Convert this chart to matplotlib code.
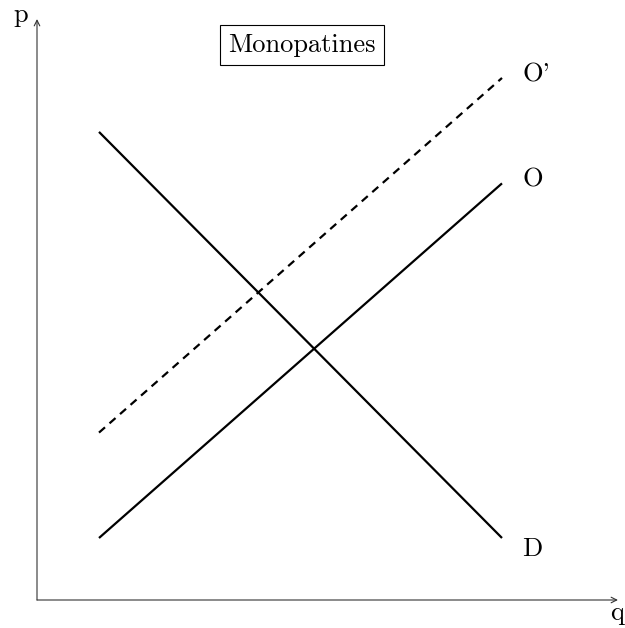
import matplotlib
matplotlib.use("Agg")
import matplotlib.pyplot as plt

plt.rcParams["font.family"] = ["cmr10", "DejaVu Serif"]
plt.rcParams["axes.formatter.use_mathtext"] = True

# supply / demand lines, in axis units (origin at the corner of the axes)
Q_START, Q_END = 1.0, 7.5
D_P = [7.55, 1.0]        # demand
O_P = [1.0, 6.72]        # supply
O2_P = [2.70, 8.42]      # shifted supply (dashed)
AX_MAX = 9.37
TITLE = "Monopatines"

UNIT = 62.0              # pixels per axis unit
X0, Y0 = 37.0, 600.0     # pixel position of the origin
W, H = 625, 628
FS = 19

fig = plt.figure(figsize=(W / 100, H / 100), dpi=100)
ax = fig.add_axes([0, 0, 1, 1])
ax.set_xlim(-X0 / UNIT, (W - X0) / UNIT)
ax.set_ylim(-(H - Y0) / UNIT, Y0 / UNIT)
ax.axis("off")

# axes with arrow heads
arrow = dict(arrowstyle="->", lw=0.8, color="#333333", shrinkA=0, shrinkB=0,
             mutation_scale=10)
ax.annotate("", xy=(AX_MAX, 0), xytext=(0, 0), arrowprops=arrow)
ax.annotate("", xy=(0, AX_MAX), xytext=(0, 0), arrowprops=arrow)
ax.text(AX_MAX - 0.02, -0.33, "q", fontsize=FS, ha="center", va="baseline")
ax.text(-0.27, 9.32, "p", fontsize=FS, ha="center", va="baseline")

q = [Q_START, Q_END]
ax.plot(q, D_P, color="black", lw=1.6, solid_capstyle="butt")
ax.plot(q, O_P, color="black", lw=1.6, solid_capstyle="butt")
ax.plot(q, O2_P, color="black", lw=1.6, dashes=(3.6, 2.7), dash_capstyle="butt")

ax.text(Q_END + 0.33, D_P[1] - 0.18, "D", fontsize=FS, ha="left", va="center")
ax.text(Q_END + 0.33, O_P[1] + 0.06, "O", fontsize=FS, ha="left", va="center")
ax.text(Q_END + 0.33, O2_P[1] + 0.05, "O'", fontsize=FS, ha="left", va="center")

ax.text((302 - X0) / UNIT, (Y0 - 45) / UNIT, TITLE, fontsize=FS,
        ha="center", va="center",
        bbox=dict(boxstyle="square,pad=0.3", fc="white", ec="black", lw=0.8))

fig.savefig("out.png", dpi=100)
